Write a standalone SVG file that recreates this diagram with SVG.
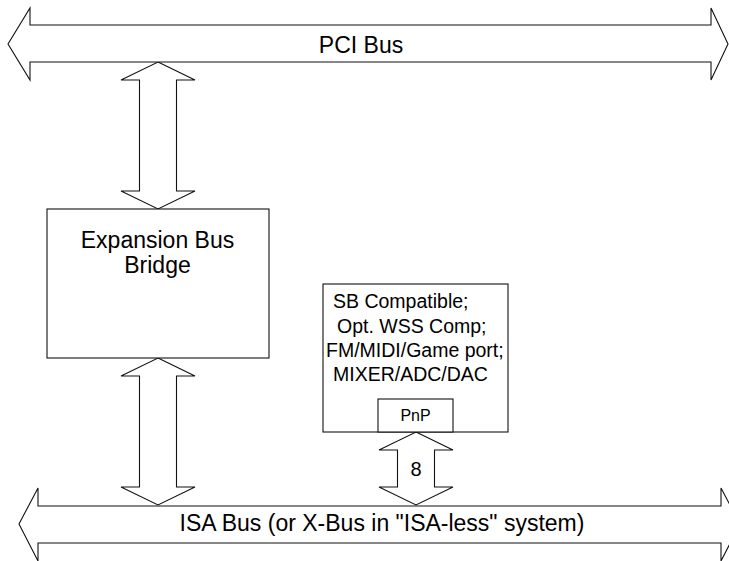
<svg xmlns="http://www.w3.org/2000/svg" width="729" height="561" viewBox="0 0 729 561">
<style>
.s{fill:#fff;stroke:#111;stroke-width:1.1;stroke-linejoin:miter}
.t{font-family:"Liberation Sans",Arial,sans-serif;fill:#000}
.big{font-size:23px;text-anchor:middle}
.mid{font-size:19.5px}
</style>
<rect width="729" height="561" fill="#fff"/>
<g id="connectors">
<polygon class="s" points="158,62 195,80 176.5,80 176.5,191 195,191 158,209 121,191 139.5,191 139.5,80 121,80"/>
<polygon class="s" points="158,358 195,376 176.5,376 176.5,487 195,487 158,505 121,487 139.5,487 139.5,376 121,376"/>
<g id="data8">
<polygon class="s" points="416,432 453,450 434.5,450 434.5,487 453,487 416,505 379,487 397.5,487 397.5,450 379,450"/>
<text class="t" x="416" y="476" font-size="20" text-anchor="middle">8</text>
</g>
</g>
<g id="pci-bus">
<polygon class="s" points="8,44 30,8 30,25 711,25 711,8 728,44 711,80 711,62 30,62 30,80"/>
<text class="t big" x="361" y="52.5">PCI Bus</text>
</g>
<g id="isa-bus">
<polygon class="s" points="19,524 38,488 38,506 721,506 721,488 740,524 721,561 721,543 38,543 38,561"/>
<text class="t big" x="382" y="531">ISA Bus (or X-Bus in "ISA-less" system)</text>
</g>
<g id="bridge">
<rect class="s" x="47" y="209" width="222" height="149"/>
<text class="t big" x="157.5" y="248">Expansion Bus</text>
<text class="t big" x="157.5" y="272.5">Bridge</text>
</g>
<g id="sound-chip">
<rect class="s" x="323" y="284" width="185" height="148"/>
<text class="t mid" x="333" y="308">SB Compatible;</text>
<text class="t mid" x="337" y="332.5">Opt. WSS Comp;</text>
<text class="t mid" x="326" y="357">FM/MIDI/Game port;</text>
<text class="t mid" x="333" y="381">MIXER/ADC/DAC</text>
</g>
<g id="pnp">
<rect class="s" x="378" y="399" width="75" height="33"/>
<text class="t" x="415.5" y="421" font-size="16" text-anchor="middle">PnP</text>
</g>
</svg>
